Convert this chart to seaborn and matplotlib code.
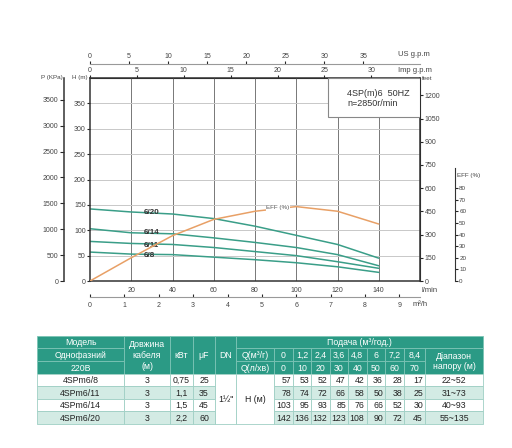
import matplotlib
matplotlib.use("Agg")
import matplotlib.pyplot as plt
from matplotlib.patches import Rectangle
import seaborn as sns
import pandas as pd

flow_lpm = [0, 20, 40, 60, 80, 100, 120, 140]
curve_names = ["6/8", "6/11", "6/14", "6/20"]
head_6_8 = [57, 53, 52, 47, 42, 36, 28, 17]
head_6_11 = [78, 74, 72, 66, 58, 50, 38, 25]
head_6_14 = [103, 95, 93, 85, 76, 66, 52, 30]
head_6_20 = [142, 136, 132, 123, 108, 90, 72, 45]
eff_pct = [0, 20, 39, 53, 60, 64, 60, 49]

# table data
models = ["4SPm6/8", "4SPm6/11", "4SPm6/14", "4SPm6/20"]
cable_len = ["3", "3", "3", "3"]
power_kw = ["0,75", "1,1", "1,5", "2,2"]
cap_uf = ["25", "35", "45", "60"]
q_m3h_labels = ["0", "1,2", "2,4", "3,6", "4,8", "6", "7,2", "8,4"]
q_lpm_labels = ["0", "10", "20", "30", "40", "50", "60", "70"]
head_ranges = ["22~52", "31~73", "40~93", "55~135"]

teal = "#3a9e88"
orange = "#e8a066"
W, H = 512, 448

sns.set_style("white")
plt.rcParams["font.family"] = ["Liberation Sans", "DejaVu Sans"]

fig = plt.figure(figsize=(5.12, 4.48), dpi=100)


def box(l, t, r, b):
    return [l / W, 1 - b / H, (r - l) / W, (b - t) / H]


def ptext(x, y, s, **kw):
    kw.setdefault("fontsize", 5)
    kw.setdefault("color", "#444")
    kw.setdefault("va", "center")
    kw.setdefault("zorder", 10)
    fig.text(x / W, 1 - y / H, s, **kw)


ax = fig.add_axes(box(90, 78, 420, 281))

heads = [head_6_8, head_6_11, head_6_14, head_6_20]
df = pd.DataFrame({
    "flow": flow_lpm * len(heads),
    "head": [v for h in heads for v in h],
    "model": [n for n in curve_names for _ in flow_lpm],
})
sns.lineplot(data=df, x="flow", y="head", hue="model", palette=[teal] * 4,
             lw=1.1, legend=False, ax=ax)

ax.set_xlim(0, 160)
ax.set_ylim(0, 400)
ax.set_xticks(range(20, 141, 20))
ax.set_yticks(range(0, 351, 50))
ax.set_xlabel("")
ax.set_ylabel("")
ax.tick_params(axis="x", length=0, pad=4.5, labelsize=5, labelcolor="#444")
ax.tick_params(axis="y", length=2, pad=1, labelsize=5, labelcolor="#444")
ax.set_axisbelow(True)
ax.grid(axis="x", color="#777", lw=0.7)
ax.grid(axis="y", color="#c8c8c8", lw=0.7)
for s in ax.spines.values():
    s.set_color("#333")
    s.set_linewidth(1.1)

# curve labels
label_pos = {"6/20": 134, "6/14": 95, "6/11": 69, "6/8": 51}
for name, yv in label_pos.items():
    ax.text(26, yv, name, fontsize=5.8, fontweight="bold", color="#333",
            va="center", ha="left", zorder=5)

# info box
ax.add_patch(Rectangle((0.721, 0.808), 0.279, 0.192, transform=ax.transAxes,
                       facecolor="white", edgecolor="#888", lw=0.8, zorder=3))
ax.text(0.779, 0.926, "4SP(m)6  50HZ", transform=ax.transAxes, fontsize=6.5,
        color="#333", va="center", zorder=4)
ax.text(0.779, 0.872, "n=2850r/min", transform=ax.transAxes, fontsize=6.5,
        color="#333", va="center", zorder=4)

# efficiency on a twin axis
ax_eff = ax.twinx()
sns.lineplot(x=flow_lpm, y=eff_pct, ax=ax_eff, color=orange, lw=1.1)
ax_eff.set_ylim(0, 80 * 203 / 93)
ax_eff.set_yticks(range(0, 81, 10))
ax_eff.spines["right"].set_position(("axes", (455 - 90) / 330))
ax_eff.spines["right"].set_bounds(0, 97)
ax_eff.spines["right"].set_color("#333")
for side in ["left", "top", "bottom"]:
    ax_eff.spines[side].set_visible(False)
ax_eff.tick_params(axis="y", length=2, pad=1, labelsize=4.5, labelcolor="#444")
ax_eff.text(91, 62.8, "EFF (%)", fontsize=4.5, color="#555", ha="center",
            va="center", bbox=dict(facecolor="white", edgecolor="none", pad=0.4))

# secondary scales
sec_p = ax.secondary_yaxis(-26 / 330, functions=(lambda h: h * 9.8, lambda p: p / 9.8))
sec_p.set_yticks(range(0, 3501, 500))
sec_p.tick_params(length=3, pad=1, labelsize=5, labelcolor="#444")
sec_p.spines["left"].set_color("#333")
sec_p.spines["left"].set_linewidth(1.1)

sec_ft = ax.secondary_yaxis("right", functions=(lambda h: h * 3.2808, lambda f: f / 3.2808))
sec_ft.set_yticks(range(0, 1201, 150))
sec_ft.tick_params(length=2.5, pad=1, labelsize=5, labelcolor="#444")

sec_m3 = ax.secondary_xaxis(-16 / 203, functions=(lambda q: q * 0.06, lambda m: m / 0.06))
sec_m3.set_xticks(range(0, 10))
sec_m3.tick_params(direction="in", length=2.5, pad=3.5, labelsize=5, labelcolor="#444")
sec_m3.spines["bottom"].set_color("#999")

sec_imp = ax.secondary_xaxis("top", functions=(lambda q: q / 4.546, lambda g: g * 4.546))
sec_imp.set_xticks(range(0, 31, 5))
sec_imp.tick_params(length=2, pad=1, labelsize=5, labelcolor="#444")

sec_us = ax.secondary_xaxis(1 + 14 / 203, functions=(lambda q: q / 3.785, lambda g: g * 3.785))
sec_us.set_xticks(range(0, 36, 5))
sec_us.tick_params(length=2, pad=1, labelsize=5, labelcolor="#444")
sec_us.spines["top"].set_color("#999")

# axis names
ptext(52, 77, "P (KPa)", ha="center", fontsize=4.5)
ptext(80, 77, "H (m)", ha="center", fontsize=4.5)
ptext(422, 79, "feet", ha="left", fontsize=4.5)
ptext(398, 55, "US g.p.m", ha="left", fontsize=5.5)
ptext(398, 70, "Imp g.p.m", ha="left", fontsize=5.5)
ptext(421, 291, "l/min", ha="left", fontsize=5.5)
ptext(413, 305, "m³/h", ha="left", fontsize=5.5)
ptext(457, 176, "EFF (%)", ha="left", fontsize=4.5)

# ---- table ----
tab = fig.add_axes([0, 0, 1, 1], zorder=-1)
tab.set_xlim(0, W)
tab.set_ylim(H, 0)
tab.axis("off")

col_x = [37, 124, 170, 193, 215, 236, 274, 293, 311, 329.5, 348, 366.5, 385, 404, 425, 483]
row_y = [336, 348.5, 361.5, 374, 386.5, 399, 411.5, 424]
head_bg = "#2b9a85"
mint = "#d3ebe4"


def cell(c0, c1, r0, r1, s, bg, fg="#222", ha="center", edge="#9fcfc4", size=6.3):
    x0, x1 = col_x[c0], col_x[c1]
    y0, y1 = row_y[r0], row_y[r1]
    tab.add_patch(Rectangle((x0, y0), x1 - x0, y1 - y0, facecolor=bg,
                            edgecolor=edge, lw=0.6))
    if ha == "right":
        tx = x1 - 2
    else:
        tx = (x0 + x1) / 2
    tab.text(tx, (y0 + y1) / 2 + 0.3, s, ha=ha, va="center", color=fg,
             fontsize=size, linespacing=1.25)


hedge = "#7cc4b5"
cell(0, 1, 0, 1, "Модель", head_bg, "white", edge=hedge)
cell(0, 1, 1, 2, "Однофазний", head_bg, "white", edge=hedge)
cell(0, 1, 2, 3, "220В", head_bg, "white", edge=hedge)
cell(1, 2, 0, 3, "Довжина\nкабеля\n(м)", head_bg, "white", edge=hedge)
cell(2, 3, 0, 3, "кВт", head_bg, "white", edge=hedge)
cell(3, 4, 0, 3, "μF", head_bg, "white", edge=hedge)
cell(4, 5, 0, 3, "DN", head_bg, "white", edge=hedge)
cell(5, 15, 0, 1, "Подача (м³/год.)", head_bg, "white", edge=hedge)
cell(5, 6, 1, 2, "Q(м³/г)", head_bg, "white", edge=hedge)
cell(5, 6, 2, 3, "Q(л/хв)", head_bg, "white", edge=hedge)
for i, (a, b) in enumerate(zip(q_m3h_labels, q_lpm_labels)):
    cell(6 + i, 7 + i, 1, 2, a, head_bg, "white", edge=hedge)
    cell(6 + i, 7 + i, 2, 3, b, head_bg, "white", edge=hedge)
cell(14, 15, 1, 3, "Діапазон\nнапору (м)", head_bg, "white", edge=hedge)

cell(4, 5, 3, 7, "1½\"", "white")
cell(5, 6, 3, 7, "H (м)", "white")
for r in range(4):
    bg = "white" if r % 2 == 0 else mint
    cell(0, 1, 3 + r, 4 + r, models[r], bg)
    cell(1, 2, 3 + r, 4 + r, cable_len[r], bg)
    cell(2, 3, 3 + r, 4 + r, power_kw[r], bg)
    cell(3, 4, 3 + r, 4 + r, cap_uf[r], bg)
    for i, v in enumerate(heads[r]):
        cell(6 + i, 7 + i, 3 + r, 4 + r, str(v), bg, ha="right")
    cell(14, 15, 3 + r, 4 + r, head_ranges[r], bg)

fig.savefig("out.png", dpi=100)
